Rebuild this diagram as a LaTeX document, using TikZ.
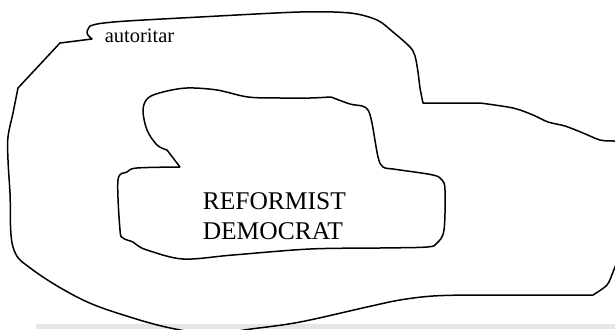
\documentclass[tikz,border=0pt]{standalone}
\usepackage{fontspec}
\setmainfont{Liberation Serif}
\definecolor{bandgray}{RGB}{230,230,230}
\begin{document}
\begin{tikzpicture}[x=1pt, y=-1pt, line width=1.5pt, line join=round]
  \useasboundingbox (0,0) rectangle (615,329);
  \clip (0,0) rectangle (615,329);
  % grey band at the bottom
  \fill[bandgray] (36,324) rectangle (615,329);
  % outer region
  \draw plot[smooth, tension=0.5] coordinates {(90,26) (100,23.5) (127,21) (200,17) (300,12) (350,13) (377,20) (393,32) (410,47) (415,56) (418,72) (420,88) (423,103)}
    -- (480,103)
    -- plot[smooth, tension=0.5] coordinates {(480,103) (513,108) (533,115) (548,122) (565,126) (583,133) (600,140) (613,141) (624,141)}
    -- (624,250) -- (617,262)
    -- plot[smooth, tension=0.5] coordinates {(617,262) (613,272) (607,285) (593,295)}
    -- (470,295)
    -- plot[smooth, tension=0.6] coordinates {(470,295) (433,296) (400,300) (367,307) (300,322) (251,329) (212,334) (175,329) (133,318) (83,300) (33,270) (13,247) (10,193) (8,160) (8,137) (13,113) (18,88)}
    -- (60,43) -- (92,39)
    -- plot[smooth, tension=0.7] coordinates {(92,39) (87,33) (90,26)};
  % inner region
  \draw (180,167) -- (167,150)
    -- plot[smooth, tension=0.55] coordinates {(167,150) (157,145) (147,130) (143,110) (148,98) (163,92) (187,88) (217,90) (248,97) (280,98) (310,98) (330,97)}
    -- plot[smooth, tension=0.55] coordinates {(331,97) (350,104) (362,106) (368,110) (372,123) (378,157) (383,167) (393,169) (400,170) (433,175) (442,180) (445,190) (444,230) (437,243) (427,247) (380,248) (310,249) (233,255) (183,259) (147,250) (137,245) (133,242) (123,238) (120,230) (118,180) (127,172) (137,168) (180,167)};
  % labels
  \node[anchor=base west, inner sep=0, font=\fontsize{20.5}{24}\selectfont] (autoritar) at (104,42) {autoritar};
  \node[anchor=north west, inner sep=0, align=left, font=\fontsize{25.5}{30}\selectfont] (reformist) at (202,192) {REFORMIST\\DEMOCRAT};
\end{tikzpicture}
\end{document}
